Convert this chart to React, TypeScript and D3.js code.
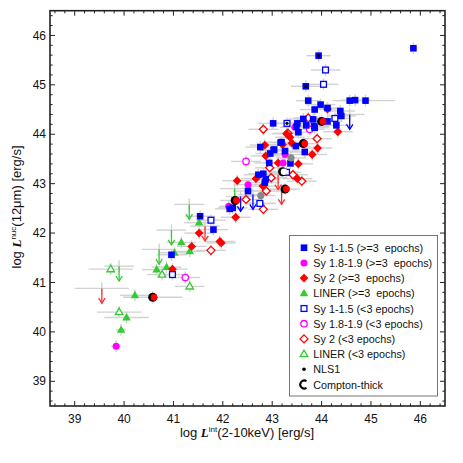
import React from 'react';
import * as d3 from 'd3';

// [log Lx, log L12, xerr]
const sy1Filled: number[][] = [
  [45.86, 45.74, 0.08], [43.94, 45.59, 0.25], [43.68, 44.97, 0.3], [43.73, 44.68, 0.25],
  [44.57, 44.68, 0.35], [44.68, 44.69, 0.3], [44.89, 44.68, 0.6], [43.86, 44.50, 0.3],
  [43.98, 44.60, 0.3], [44.12, 44.53, 0.25], [44.38, 44.47, 0.3], [44.40, 44.37, 0.3],
  [44.30, 44.18, 0.3], [44.12, 44.26, 0.3], [43.63, 44.31, 0.3], [43.51, 44.22, 0.3],
  [43.83, 44.30, 0.3], [43.86, 44.13, 0.3], [43.69, 44.18, 0.3], [43.53, 44.04, 0.3],
  [43.02, 44.22, 0.3], [43.19, 43.84, 0.3], [43.48, 43.76, 0.3], [42.76, 43.74, 0.3],
  [43.03, 43.68, 0.3], [42.96, 43.61, 0.3], [42.94, 43.42, 0.3], [43.26, 43.66, 0.3],
  [43.37, 43.41, 0.3], [43.66, 43.64, 0.3], [42.72, 43.18, 0.3], [42.82, 43.20, 0.3],
  [42.87, 43.09, 0.3], [42.85, 43.02, 0.3], [42.51, 42.85, 0.3], [42.14, 42.49, 0.3],
  [42.20, 42.51, 0.3], [41.54, 42.34, 0.3], [41.81, 42.07, 0.3], [40.96, 41.56, 0.3],
  [43.85, 44.16, 0.3], [43.17, 43.83, 0.3], [43.04, 43.69, 0.3], [43.49, 44.15, 0.3],
];
const sy1Open: number[][] = [
  [44.08, 45.30, 0.3], [44.04, 45.01, 0.3], [43.30, 44.22, 0.25], [44.27, 44.32, 0.3],
  [43.29, 43.23, 0.3], [42.75, 42.60, 0.3], [41.76, 42.26, 0.3], [40.98, 41.16, 0.3],
];
const sy1Limits: number[][] = [
  [44.57, 44.40, 0.3], [42.36, 42.74, 0.3], [42.61, 42.78, 0.3],
];
const sy19Filled: number[][] = [
  [39.84, 39.71, 0.1], [42.12, 42.54, 0.2], [42.51, 42.98, 0.3], [43.46, 44.14, 0.3],
  [43.26, 43.59, 0.3], [43.22, 43.42, 0.2],
];
const sy19Open: number[][] = [
  [42.47, 43.45, 0.3], [41.24, 41.10, 0.3], [43.76, 44.10, 0.3],
];
const sy2Filled: number[][] = [
  [44.33, 44.05, 0.3], [43.92, 43.72, 0.3], [43.81, 43.59, 0.3], [43.53, 43.40, 0.3],
  [43.12, 43.42, 0.3], [42.85, 43.78, 0.3], [42.87, 43.56, 0.3], [43.21, 43.79, 0.3],
  [43.29, 44.01, 0.3], [43.36, 43.94, 0.3], [43.40, 43.82, 0.3], [43.51, 43.10, 0.3],
  [42.67, 43.10, 0.3], [42.29, 43.06, 0.3], [42.81, 42.95, 0.3], [42.26, 42.32, 0.3],
  [41.52, 42.00, 0.3], [41.37, 41.73, 0.3], [41.97, 41.80, 0.3], [41.94, 41.83, 0.3],
  [40.98, 41.27, 0.3], [44.12, 44.51, 0.3],
];
const sy2Open: number[][] = [
  [42.82, 44.10, 0.3], [43.32, 44.02, 0.3], [43.91, 43.91, 0.3], [42.95, 43.32, 0.3],
  [42.98, 43.12, 0.3], [43.42, 43.18, 0.3], [43.60, 43.05, 0.3], [42.88, 42.85, 0.3],
  [42.82, 42.48, 0.3], [42.47, 42.68, 0.3], [41.76, 41.65, 0.3], [43.73, 44.33, 0.3],
];
const sy2Limits: number[][] = [
  [39.55, 40.88, 0.55], [41.64, 42.14, 0.3], [43.12, 43.18, 0.3], [43.19, 42.88, 0.3],
];
const linerFilled: number[][] = [
  [39.94, 40.04, 0.1], [40.05, 40.29, 0.45], [40.22, 40.74, 0.3], [40.66, 41.26, 0.3],
  [40.86, 41.31, 0.3], [41.02, 41.60, 0.3], [41.16, 41.81, 0.3], [41.33, 41.63, 0.3],
  [41.52, 42.21, 0.3], [42.78, 42.60, 0.3],
];
const linerOpen: number[][] = [
  [39.73, 41.27, 0.45], [39.90, 40.40, 0.45], [40.77, 41.16, 0.3], [41.33, 40.92, 0.3],
];
const linerLimits: number[][] = [
  [39.90, 41.33, 0.3], [40.71, 41.67, 0.35], [40.96, 42.06, 0.3], [41.32, 42.58, 0.3],
  [42.24, 42.90, 0.3],
];
const comptonThick: number[][] = [
  [40.58, 40.70, 0.6], [42.25, 42.66, 0.3], [43.26, 42.89, 0.3], [43.63, 43.81, 0.3],
  [44.00, 44.26, 0.3],
];
const comptonThickOpen: number[][] = [[43.21, 43.24, 0.3]];
const unclassified: number[][] = [[42.77, 42.76, 0.3], [43.38, 43.52, 0.3]];
const nls1: number[][] = [[43.94, 45.59], [43.68, 44.97], [43.30, 44.22], [41.54, 42.34]];

const legendLabels: string[] = [
  'Sy 1-1.5 (>=3  epochs)', 'Sy 1.8-1.9 (>=3  epochs)', 'Sy 2 (>=3  epochs)',
  'LINER (>=3  epochs)', 'Sy 1-1.5 (<3 epochs)', 'Sy 1.8-1.9 (<3 epochs)',
  'Sy 2 (<3 epochs)', 'LINER (<3 epochs)', 'NLS1', 'Compton-thick',
];
const axisTicks: number[] = [39, 40, 41, 42, 43, 44, 45, 46];

const BLUE = '#0000ff';
const MAG = '#ff00ff';
const RED = '#ff0000';
const GREEN = '#33cc33';
const ERR = '#d2d2d2';

type Kind = 'square' | 'circle' | 'diamond' | 'triangle';

function Marker({ kind, cx, cy, color, open }: { kind: Kind; cx: number; cy: number; color: string; open: boolean }) {
  const fill = open ? '#ffffff' : color;
  const sw = open ? 1.3 : 0;
  const stroke = open ? color : 'none';
  if (kind === 'square') {
    const s = open ? 5.8 : 6.6;
    return <rect x={cx - s / 2} y={cy - s / 2} width={s} height={s} fill={fill} stroke={stroke} strokeWidth={sw} />;
  }
  if (kind === 'circle') {
    return <circle cx={cx} cy={cy} r={open ? 3.2 : 3.5} fill={fill} stroke={stroke} strokeWidth={sw} />;
  }
  if (kind === 'diamond') {
    const r = open ? 4.0 : 4.4;
    return <path d={`M${cx},${cy - r}L${cx + r},${cy}L${cx},${cy + r}L${cx - r},${cy}Z`} fill={fill} stroke={stroke} strokeWidth={sw} />;
  }
  const r = open ? 4.0 : 4.5;
  return <path d={`M${cx},${cy - r}L${cx + r * 0.95},${cy + r * 0.65}L${cx - r * 0.95},${cy + r * 0.65}Z`} fill={fill} stroke={stroke} strokeWidth={sw} />;
}

export default function App() {
  const W = 463, H = 463;
  const L = 50, R = 445, T = 10.7, B = 406;
  const x = d3.scaleLinear().domain([38.5, 46.5]).range([L, R]);
  const y = d3.scaleLinear().domain([38.5, 46.5]).range([B, T]);
  const minor = d3.range(38.6, 46.5, 0.2).filter((v) => Math.abs(v - Math.round(v)) > 0.05);

  const allErr: number[][] = [
    ...sy1Filled, ...sy1Open, ...sy19Filled, ...sy19Open, ...sy2Filled, ...sy2Open,
    ...linerFilled, ...linerOpen, ...comptonThick, ...comptonThickOpen, ...unclassified,
    ...sy1Limits, ...sy2Limits, ...linerLimits,
  ];

  const arrow = (d: number[], color: string, key: string) => {
    const cx = x(d[0]);
    const top = y(d[1]);
    const tip = y(d[1] - 0.3);
    return (
      <g key={key} stroke={color} strokeWidth={1.3} fill="none">
        <line x1={cx} y1={top} x2={cx} y2={tip} />
        <path d={`M${cx - 3.2},${tip - 5}L${cx},${tip}L${cx + 3.2},${tip - 5}`} />
      </g>
    );
  };

  const series: { data: number[][]; kind: Kind; color: string; open: boolean }[] = [
    { data: linerFilled, kind: 'triangle', color: GREEN, open: false },
    { data: linerOpen, kind: 'triangle', color: GREEN, open: true },
    { data: sy2Open, kind: 'diamond', color: RED, open: true },
    { data: sy19Open, kind: 'circle', color: MAG, open: true },
    { data: sy2Filled, kind: 'diamond', color: RED, open: false },
    { data: sy19Filled, kind: 'circle', color: MAG, open: false },
    { data: sy1Open, kind: 'square', color: BLUE, open: true },
    { data: sy1Filled, kind: 'square', color: BLUE, open: false },
  ];

  const legendKinds: { kind: Kind | 'dot' | 'c'; color: string; open: boolean }[] = [
    { kind: 'square', color: BLUE, open: false }, { kind: 'circle', color: MAG, open: false },
    { kind: 'diamond', color: RED, open: false }, { kind: 'triangle', color: GREEN, open: false },
    { kind: 'square', color: BLUE, open: true }, { kind: 'circle', color: MAG, open: true },
    { kind: 'diamond', color: RED, open: true }, { kind: 'triangle', color: GREEN, open: true },
    { kind: 'dot', color: '#000', open: false }, { kind: 'c', color: '#000', open: false },
  ];

  const font = '"Liberation Sans", Arial, Helvetica, sans-serif';

  return (
    <svg width={W} height={H} style={{ position: 'absolute', left: 0, top: 0, background: '#fff' }} fontFamily={font}>
      <rect x={0} y={0} width={W} height={H} fill="#fff" />
      {/* error bars */}
      <g stroke={ERR} strokeWidth={1.4}>
        {allErr.map((d, i) => (
          <g key={'e' + i}>
            <line x1={x(d[0] - d[2])} x2={x(d[0] + d[2])} y1={y(d[1])} y2={y(d[1])} />
            <line x1={x(d[0])} x2={x(d[0])} y1={y(d[1] - 0.12)} y2={y(d[1] + 0.12)} />
          </g>
        ))}
      </g>
      {/* arrows */}
      {linerLimits.map((d, i) => arrow(d, GREEN, 'la' + i))}
      {sy2Limits.map((d, i) => arrow(d, '#ff3030', 'ra' + i))}
      {sy1Limits.map((d, i) => arrow(d, BLUE, 'ba' + i))}
      {/* markers */}
      {series.map((s, si) => (
        <g key={'s' + si}>
          {s.data.map((d, i) => (
            <Marker key={i} kind={s.kind} cx={x(d[0])} cy={y(d[1])} color={s.color} open={s.open} />
          ))}
        </g>
      ))}
      {unclassified.map((d, i) => (
        <circle key={'u' + i} cx={x(d[0])} cy={y(d[1])} r={3.6} fill="#888" />
      ))}
      {comptonThick.map((d, i) => (
        <g key={'ct' + i}>
          <circle cx={x(d[0])} cy={y(d[1])} r={4.5} fill="#000" />
          <circle cx={x(d[0]) + 1.4} cy={y(d[1])} r={3.4} fill={RED} />
        </g>
      ))}
      {comptonThickOpen.map((d, i) => (
        <g key={'cto' + i}>
          <circle cx={x(d[0])} cy={y(d[1])} r={4.5} fill="#000" />
          <circle cx={x(d[0]) + 1.4} cy={y(d[1])} r={3.2} fill="#fff" />
        </g>
      ))}
      {nls1.map((d, i) => (
        <circle key={'n' + i} cx={x(d[0])} cy={y(d[1])} r={1.6} fill="#000" />
      ))}
      {/* ticks */}
      <g stroke="#222" strokeWidth={1}>
        {axisTicks.map((t) => (
          <g key={'mt' + t}>
            <line x1={x(t)} x2={x(t)} y1={B} y2={B - 5} />
            <line x1={x(t)} x2={x(t)} y1={T} y2={T + 5} />
            <line y1={y(t)} y2={y(t)} x1={L} x2={L + 5} />
            <line y1={y(t)} y2={y(t)} x1={R} x2={R - 5} />
          </g>
        ))}
        {minor.map((t, i) => (
          <g key={'mn' + i}>
            <line x1={x(t)} x2={x(t)} y1={B} y2={B - 2.6} />
            <line x1={x(t)} x2={x(t)} y1={T} y2={T + 2.6} />
            <line y1={y(t)} y2={y(t)} x1={L} x2={L + 2.6} />
            <line y1={y(t)} y2={y(t)} x1={R} x2={R - 2.6} />
          </g>
        ))}
      </g>
      <rect x={L} y={T} width={R - L} height={B - T} fill="none" stroke="#222" strokeWidth={1.6} />
      {/* tick labels */}
      <g fontSize={12} fill="#111">
        {axisTicks.map((t) => (
          <text key={'xl' + t} x={x(t)} y={423} textAnchor="middle">{t}</text>
        ))}
        {axisTicks.map((t) => (
          <text key={'yl' + t} x={46} y={y(t) + 4.2} textAnchor="end">{t}</text>
        ))}
      </g>
      {/* axis titles */}
      <text x={247} y={437} textAnchor="middle" fontSize={13} fill="#111">
        log <tspan fontFamily='"Liberation Serif", "Times New Roman", serif' fontStyle="italic" fontWeight="bold">L</tspan>
        <tspan fontSize={8} dy={-5}>int</tspan>
        <tspan dy={5}>(2-10keV) [erg/s]</tspan>
      </text>
      <text transform="translate(21,207) rotate(-90)" textAnchor="middle" fontSize={13} fill="#111">
        log <tspan fontFamily='"Liberation Serif", "Times New Roman", serif' fontStyle="italic" fontWeight="bold">L</tspan>
        <tspan fontSize={8} dy={-5}>nuc</tspan>
        <tspan dy={5}>(12μm) [erg/s]</tspan>
      </text>
      {/* legend */}
      <rect x={289.5} y={235.5} width={148} height={160.5} fill="#fff" stroke="#777" strokeWidth={1} />
      {legendLabels.map((lab, i) => {
        const cy = 247.7 + i * 15.2;
        const k = legendKinds[i];
        let sym: React.ReactNode;
        if (k.kind === 'dot') sym = <circle cx={304} cy={cy} r={1.8} fill="#000" />;
        else if (k.kind === 'c')
          sym = <path d={`M${306.5},${cy - 3.3}A4 4 0 1 0 ${306.5},${cy + 3.3}`} fill="none" stroke="#000" strokeWidth={2} />;
        else sym = <Marker kind={k.kind} cx={304} cy={cy} color={k.color} open={k.open} />;
        return (
          <g key={'lg' + i}>
            {sym}
            <text x={313.3} y={cy + 4} fontSize={10.8} fill="#111" style={{ whiteSpace: 'pre' }}>{lab}</text>
          </g>
        );
      })}
    </svg>
  );
}
